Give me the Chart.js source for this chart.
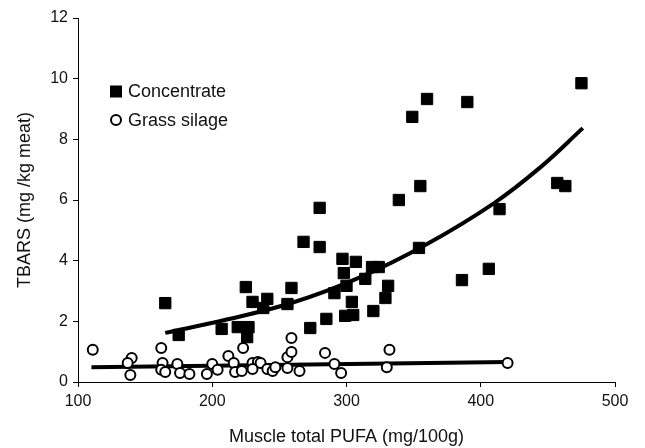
<!DOCTYPE html>
<html>
<head>
<meta charset="utf-8">
<title>TBARS vs muscle PUFA</title>
<script src="https://cdn.jsdelivr.net/npm/chart.js@4"></script>
<style>
  html, body { margin: 0; padding: 0; background: #fff; }
  #wrap { width: 645px; height: 448px; }
</style>
</head>
<body>
<div id="wrap"><canvas id="chart" width="645" height="448"></canvas></div>
<script>
  // ── data: muscle total PUFA (mg/100g) vs TBARS (mg/kg meat) ──
  const concPufa = [475, 360, 390, 349, 355, 339, 457, 463, 414, 354, 386, 406,
    280, 268, 280, 297, 307, 298, 300, 291, 259, 225, 230, 241, 238, 256,
    165, 175, 207, 219, 227, 226, 273, 285, 299, 305, 319, 324, 314, 331,
    304, 329, 320];
  const concTbars = [9.85, 9.33, 9.23, 8.74, 6.46, 6.0, 6.56, 6.46, 5.7, 4.42, 3.36, 3.73,
    5.74, 4.62, 4.45, 4.06, 3.96, 3.59, 3.17, 2.93, 3.1, 3.13, 2.64, 2.74, 2.44, 2.57,
    2.6, 1.55, 1.75, 1.81, 1.81, 1.48, 1.78, 2.08, 2.18, 2.21, 3.79, 3.79, 3.4, 3.17,
    2.64, 2.77, 2.34];

  const grassPufa = [111, 140, 137, 139, 162, 163, 162, 165, 174, 176, 183, 196,
    200, 204, 212, 216, 217, 222, 223, 230, 234, 236, 230, 241, 245, 247,
    256, 256, 259, 259, 265, 284, 291, 296, 332, 330, 420];
  const grassTbars = [1.06, 0.79, 0.63, 0.23, 1.12, 0.63, 0.4, 0.33, 0.59, 0.3, 0.26, 0.26,
    0.59, 0.4, 0.86, 0.63, 0.33, 0.36, 1.12, 0.63, 0.66, 0.63, 0.43, 0.43, 0.36, 0.49,
    0.46, 0.82, 0.99, 1.45, 0.36, 0.96, 0.59, 0.3, 1.06, 0.49, 0.63];

  // fitted trend curves, read along their drawn path
  const concFitPufa = [165, 210, 260, 310, 360, 410, 445, 476];
  const concFitTbars = [1.62, 2.05, 2.62, 3.45, 4.55, 5.9, 7.1, 8.37];
  const grassFitPufa = [110, 420];
  const grassFitTbars = [0.49, 0.66];

  const xTicks = [100, 200, 300, 400, 500];
  const yTicks = [0, 2, 4, 6, 8, 10, 12];

  const FONT = '"Liberation Sans", Arial, sans-serif';
  const INK = '#111';

  function toPoints(xs, ys) {
    return xs.map((x, i) => ({ x, y: ys[i] }));
  }

  // ── legend drawn inside the plot, upper left ──
  const insideLegend = {
    id: 'insideLegend',
    afterDraw(chart) {
      const ctx = chart.ctx;
      ctx.save();
      ctx.font = '18px ' + FONT;
      ctx.textBaseline = 'middle';
      chart.data.datasets.filter(ds => ds.legend).forEach((ds, i) => {
        const cx = 116;
        const cy = 91.5 + i * 28.5;
        ctx.fillStyle = '#000';
        ctx.strokeStyle = '#000';
        if (ds.pointStyle === 'rect') {
          ctx.fillRect(cx - 6, cy - 6, 12, 12);
        } else {
          ctx.beginPath();
          ctx.lineWidth = 2;
          ctx.fillStyle = '#fff';
          ctx.arc(cx, cy, 5, 0, Math.PI * 2);
          ctx.fill();
          ctx.stroke();
        }
        ctx.fillStyle = INK;
        ctx.fillText(ds.label, 128, cy + 1);
      });
      ctx.restore();
    },
  };

  function axis(min, max, ticks, titleText, fit) {
    return {
      type: 'linear',
      min,
      max,
      afterBuildTicks: s => { s.ticks = ticks.map(v => ({ value: v })); },
      ticks: { color: INK, font: { family: FONT, size: 16 }, padding: 5 },
      grid: { drawOnChartArea: false, drawTicks: true, tickLength: 5, color: '#000', lineWidth: 1 },
      border: { display: true, color: '#000', width: 1 },
      title: { display: true, text: titleText, color: INK, font: { family: FONT, size: 18 }, padding: { top: 14, bottom: 0 } },
      afterFit: fit,
    };
  }

  new Chart(document.getElementById('chart'), {
    type: 'scatter',
    data: {
      datasets: [
        {
          label: 'Concentrate',
          legend: true,
          data: toPoints(concPufa, concTbars),
          pointStyle: 'rect',
          pointRadius: 8,
          backgroundColor: '#000',
          borderColor: '#000',
          borderWidth: 1,
          order: 1,
        },
        {
          label: 'Grass silage',
          legend: true,
          data: toPoints(grassPufa, grassTbars),
          pointStyle: 'circle',
          pointRadius: 5,
          backgroundColor: '#fff',
          borderColor: '#000',
          borderWidth: 2,
          order: 1,
        },
        {
          label: 'Concentrate fit',
          data: toPoints(concFitPufa, concFitTbars),
          showLine: true,
          pointRadius: 0,
          borderColor: '#000',
          borderWidth: 4,
          tension: 0.4,
          order: 2,
        },
        {
          label: 'Grass silage fit',
          data: toPoints(grassFitPufa, grassFitTbars),
          showLine: true,
          pointRadius: 0,
          borderColor: '#000',
          borderWidth: 4,
          order: 2,
        },
      ],
    },
    options: {
      responsive: false,
      animation: false,
      layout: { padding: { top: 18, right: 30, left: 0, bottom: 0 } },
      plugins: {
        legend: { display: false },
        tooltip: { enabled: false },
      },
      scales: {
        x: axis(100, 500, xTicks, 'Muscle total PUFA (mg/100g)', s => { s.height = 66; }),
        y: axis(0, 12, yTicks, 'TBARS (mg /kg meat)', s => { s.width = 78; }),
      },
    },
    plugins: [insideLegend],
  });
</script>
</body>
</html>
